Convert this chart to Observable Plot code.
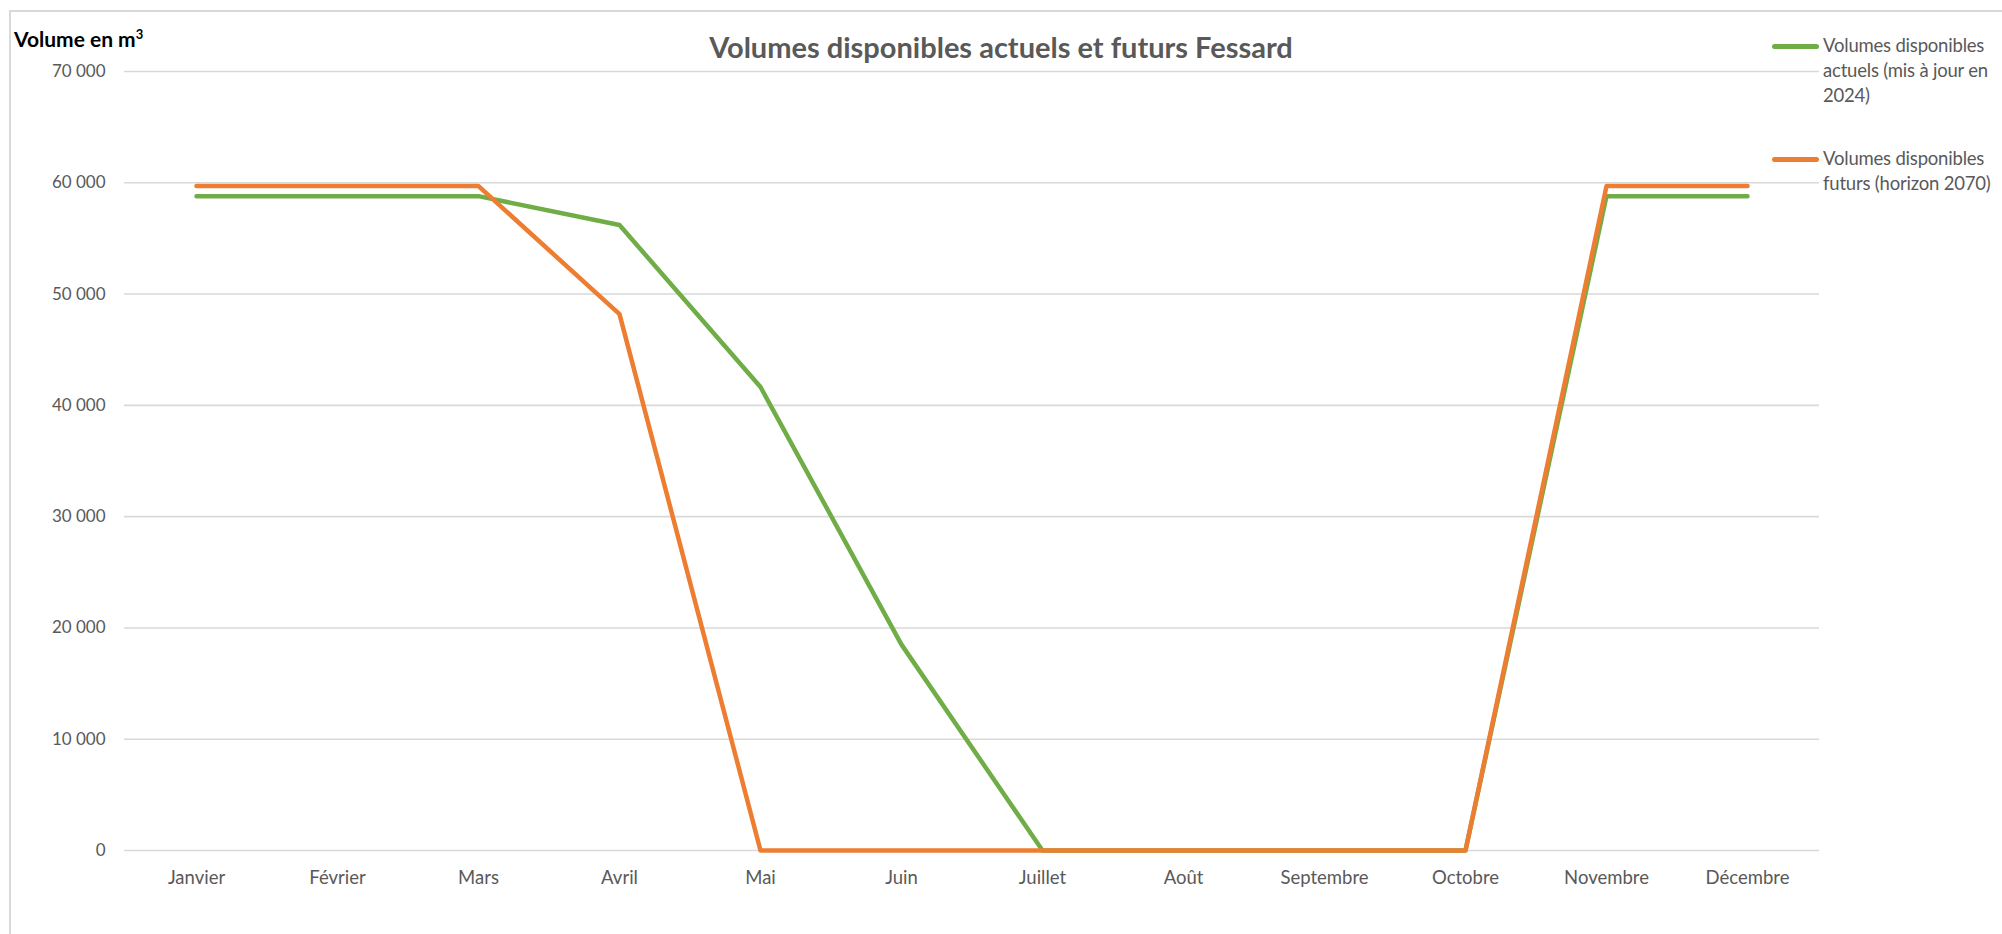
<!DOCTYPE html>
<html>
<head>
<meta charset="utf-8">
<script src="https://cdn.jsdelivr.net/npm/d3@7"></script>
<script src="https://cdn.jsdelivr.net/npm/@observablehq/plot@0.6"></script>
<style>
  html, body { margin: 0; padding: 0; background: #fff; }
  #wrap { position: relative; width: 2002px; height: 934px; overflow: hidden; font-family: Lato, "Open Sans", sans-serif; }
  #frame { position: absolute; left: 9px; top: 10px; width: 2100px; height: 1000px; border: 2px solid #d9d9d9; box-sizing: border-box; }
  #title { position: absolute; left: 0; width: 2002px; top: 29px; text-align: center; font-size: 29px; font-weight: bold; color: #595959; }
  #ylabel { position: absolute; left: 14px; top: 26px; font-size: 21px; font-weight: bold; color: #000; }
  .leg { position: absolute; left: 1772px; font-size: 18.5px; letter-spacing: -0.2px; color: #595959; line-height: 25px; white-space: nowrap; }
  .leg .sw { position: absolute; left: 0; top: 11px; width: 47px; height: 5px; border-radius: 2.5px; }
  .leg .tx { position: absolute; left: 51px; top: 0; }
  #plot { position: absolute; left: 0; top: 0; }
</style>
</head>
<body>
<div id="wrap">
  <div id="frame"></div>
  <div id="plot"></div>
  <div id="title"></div>
  <div id="ylabel">Volume en m<sup style="font-size:13px">3</sup></div>
  <div id="legend"></div>
</div>
<script>
const months = ["Janvier","Février","Mars","Avril","Mai","Juin","Juillet","Août","Septembre","Octobre","Novembre","Décembre"];
const actuels = [58800, 58800, 58800, 56200, 41650, 18500, 0, 0, 0, 0, 58800, 58800];
const futurs = [59700, 59700, 59700, 48200, 0, 0, 0, 0, 0, 0, 59700, 59700];
const seriesNames = ["Volumes disponibles actuels (mis à jour en 2024)", "Volumes disponibles futurs (horizon 2070)"];
const seriesColors = ["#70AD47", "#ED7D31"];
const yTicks = [0, 10000, 20000, 30000, 40000, 50000, 60000, 70000];
const titleText = "Volumes disponibles actuels et futurs Fessard";
const legendLines = [["Volumes disponibles", "actuels (mis à jour en", "2024)"], ["Volumes disponibles", "futurs (horizon 2070)"]];

const data = [];
months.forEach((m, i) => data.push({month: m, value: actuels[i], series: seriesNames[0]}));
months.forEach((m, i) => data.push({month: m, value: futurs[i], series: seriesNames[1]}));

const fmt = v => d3.format(",")(v).replace(/,/g, "\u202F");

const chart = Plot.plot({
  width: 2002,
  height: 934,
  marginLeft: 124,
  marginRight: 183,
  marginTop: 71,
  marginBottom: 84,
  style: {fontFamily: "Lato, 'Open Sans', sans-serif", fontSize: "17px", color: "#595959", background: "transparent"},
  x: {type: "point", domain: months, padding: 0.5, label: null},
  y: {domain: [0, 70000], label: null},
  color: {domain: seriesNames, range: seriesColors},
  marks: [
    Plot.ruleY(yTicks, {stroke: "#d9d9d9", strokeWidth: 1.6}),
    Plot.axisY({ticks: yTicks, tickFormat: fmt, tickSize: 0, tickPadding: 19, label: null, fill: "#595959", fontSize: 17}),
    Plot.axisX({tickSize: 0, tickPadding: 20, label: null, fill: "#595959", fontSize: 18.5}),
    Plot.line(data, {x: "month", y: "value", z: "series", stroke: "series", strokeWidth: 4.5, strokeLinecap: "round", strokeLinejoin: "round"})
  ]
});
document.getElementById("plot").appendChild(chart);
document.getElementById("title").textContent = titleText;

const legTops = [33, 146];
const leg = document.getElementById("legend");
seriesNames.forEach((s, i) => {
  const d = document.createElement("div");
  d.className = "leg";
  d.style.top = legTops[i] + "px";
  d.innerHTML = `<div class="sw" style="background:${seriesColors[i]}"></div><div class="tx">${legendLines[i].join("<br>")}</div>`;
  leg.appendChild(d);
});
</script>
</body>
</html>
